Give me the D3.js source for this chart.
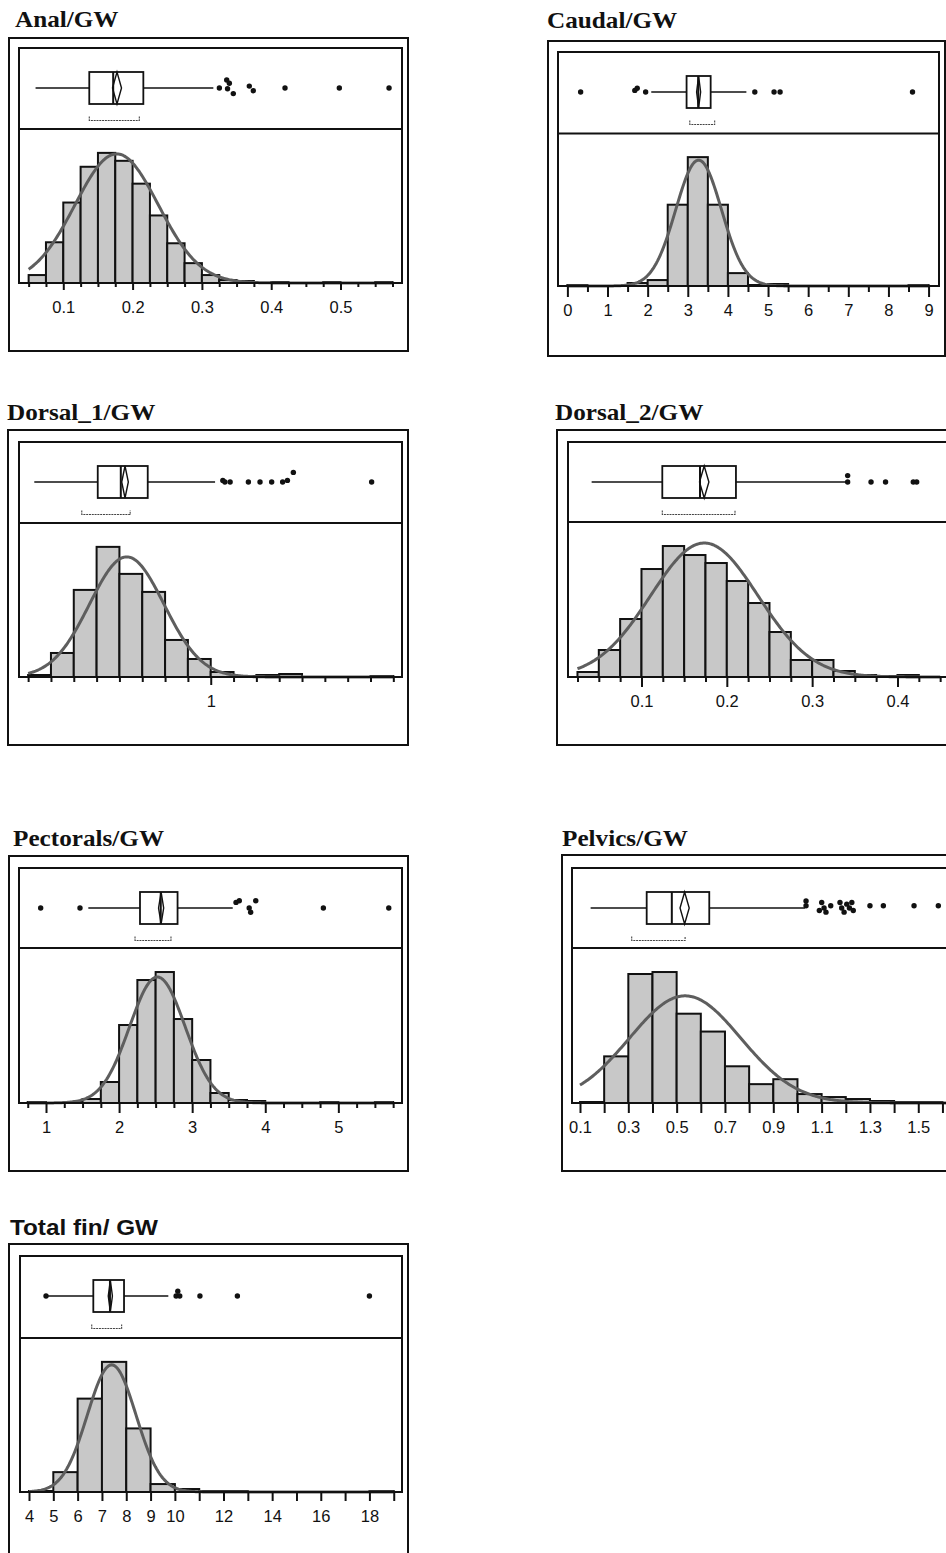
<!DOCTYPE html>
<html>
<head>
<meta charset="utf-8">
<script src="https://cdn.jsdelivr.net/npm/d3@7"></script>
<style>
  body { margin: 0; background: #fff; }
  svg { display: block; }
</style>
</head>
<body>
<svg id="chart" width="946" height="1553"></svg>
<script>
// ---------- data ----------
const titles = ["Anal/GW", "Caudal/GW", "Dorsal_1/GW", "Dorsal_2/GW", "Pectorals/GW", "Pelvics/GW", "Total fin/ GW"];

// axis limits of each distribution plot
const axisMin = [0.0361, -0.234, 0.160, 0.0139, 0.6305, 0.0669, 3.63];
const axisMax = [0.5887, 9.26, 1.838, 0.4627, 5.871, 1.652, 19.34];

// histogram bins: first bin edge, bin width, counts
const binStart = [0.05, 0, 0.2, 0.025, 0.75, 0.1, 4];
const binWidth = [0.025, 0.5, 0.1, 0.025, 0.25, 0.1, 1];
const analCounts     = [8, 41, 81, 117, 131, 123, 100, 68, 40, 20, 8, 3, 2, 0, 1, 0, 0, 1, 0, 0, 1];
const caudalCounts   = [1, 0, 0, 3, 6, 82, 130, 82, 13, 1, 2, 0, 0, 0, 0, 0, 0, 1];
const dorsal1Counts  = [2, 24, 87, 130, 103, 85, 37, 18, 5, 1, 2, 3, 0, 0, 0, 1];
const dorsal2Counts  = [5, 27, 58, 108, 131, 122, 114, 96, 74, 45, 17, 17, 6, 2, 1, 2];
const pectoralCounts = [1, 0, 1, 4, 21, 78, 123, 131, 84, 43, 10, 3, 2, 0, 0, 0, 1, 0, 0, 1];
const pelvicCounts   = [1, 47, 130, 132, 90, 72, 37, 19, 24, 9, 6, 4, 2, 1, 1];
const totalCounts    = [1, 20, 94, 131, 64, 8, 3, 1, 1, 0, 0, 0, 0, 0, 1];

// fitted normal curve: mean, standard deviation, peak height (count units)
const fitMean = [0.177, 3.27, 0.632, 0.1736, 2.524, 0.535, 7.40];
const fitSD   = [0.060, 0.57, 0.163, 0.063, 0.38, 0.23, 1.0];
const fitPeak = [130, 127, 120, 134, 126, 108, 128];

// outlier box plot statistics
const whiskerLo = [0.060, 2.09, 0.227, 0.0416, 1.579, 0.144, 4.70];
const q1        = [0.1375, 2.97, 0.505, 0.1244, 2.286, 0.376, 6.645];
const median    = [0.172, 3.26, 0.606, 0.1686, 2.57, 0.48, 7.33];
const q3        = [0.2155, 3.57, 0.724, 0.2107, 2.80, 0.635, 7.908];
const whiskerHi = [0.3165, 4.46, 1.019, 0.3405, 3.555, 1.031, 9.73];
const meanCILo  = [0.171, 3.22, 0.61, 0.168, 2.54, 0.514, 7.26];
const meanCIHi  = [0.184, 3.32, 0.639, 0.179, 2.61, 0.552, 7.43];
const shortHalfLo = [0.1375, 3.05, 0.435, 0.1244, 2.218, 0.314, 6.58];
const shortHalfHi = [0.2097, 3.67, 0.647, 0.2096, 2.71, 0.535, 7.81];

// outliers: [value, vertical jitter as a fraction of the box half-height]
const analOutliers = [[0.3252, 0], [0.3358, -0.5], [0.3396, -0.3], [0.3370, 0.05], [0.3453, 0.35], [0.3684, -0.12], [0.3742, 0.17], [0.4199, 0], [0.4983, 0], [0.570, 0]];
const caudalOutliers = [[0.33, 0], [1.68, -0.1], [1.74, -0.23], [1.95, 0], [4.67, 0], [5.15, 0], [5.30, 0], [8.6, 0]];
const dorsal1Outliers = [[1.053, -0.1], [1.062, 0], [1.085, 0], [1.165, 0], [1.216, 0], [1.267, 0], [1.315, 0], [1.336, -0.1], [1.362, -0.6], [1.705, 0]];
const dorsal2Outliers = [[0.3416, -0.4], [0.3416, 0], [0.369, 0], [0.386, 0], [0.4185, 0], [0.4225, 0]];
const pectoralOutliers = [[0.927, 0], [1.465, 0], [3.60, -0.35], [3.645, -0.45], [3.78, 0], [3.80, 0.27], [3.87, -0.45], [4.795, 0], [5.69, 0]];
const pelvicOutliers = [[1.0355, -0.44], [1.0355, -0.14], [1.0906, 0.16], [1.1003, -0.34], [1.110, 0], [1.118, 0.26], [1.1377, -0.14],
  [1.176, -0.34], [1.183, 0], [1.193, 0.26], [1.204, -0.24], [1.215, 0], [1.225, -0.34], [1.231, 0.16],
  [1.300, -0.14], [1.3555, -0.14], [1.4825, -0.14], [1.583, -0.14]];
const totalOutliers = [[4.70, 0], [10.05, 0], [10.12, -0.3], [10.2, 0], [11.03, 0], [12.57, 0], [18.0, 0]];

// axis ticks: [first, last, step] for all ticks, labelled values and their labels
const tickRange = [[0.05, 0.575, 0.025], [0, 9, 0.5], [0.2, 1.8, 0.1], [0.025, 0.45, 0.025], [0.75, 5.75, 0.25], [0.1, 1.7, 0.1], [4, 19, 1]];
const analLabels     = ["0.1", "0.2", "0.3", "0.4", "0.5"];
const caudalLabels   = ["0", "1", "2", "3", "4", "5", "6", "7", "8", "9"];
const dorsal1Labels  = ["1"];
const dorsal2Labels  = ["0.1", "0.2", "0.3", "0.4"];
const pectoralLabels = ["1", "2", "3", "4", "5"];
const pelvicLabels   = ["0.1", "0.3", "0.5", "0.7", "0.9", "1.1", "1.3", "1.5"];
const totalLabels    = ["4", "5", "6", "7", "8", "9", "10", "12", "14", "16", "18"];

const countsList   = [analCounts, caudalCounts, dorsal1Counts, dorsal2Counts, pectoralCounts, pelvicCounts, totalCounts];
const outlierList  = [analOutliers, caudalOutliers, dorsal1Outliers, dorsal2Outliers, pectoralOutliers, pelvicOutliers, totalOutliers];
const labelList    = [analLabels, caudalLabels, dorsal1Labels, dorsal2Labels, pectoralLabels, pelvicLabels, totalLabels];

// ---------- layout ----------
// outer frame, inner frame (top to histogram baseline), divider offset, title position, tick lengths
const layout = [
  { ox: 9,   oy: 38,   ow: 399, oh: 313, ix: 19,  iy: 48,   iw: 383, ih: 235, div: 81,   tx: 15,  ty: 27,   major: 7,  minor: 4 },
  { ox: 548, oy: 41,   ow: 397, oh: 315, ix: 558, iy: 52,   iw: 381, ih: 234, div: 81.5, tx: 547, ty: 28,   major: 11, minor: 6 },
  { ox: 8,   oy: 430,  ow: 400, oh: 315, ix: 19,  iy: 442,  iw: 383, ih: 235, div: 81,   tx: 7,   ty: 420,  major: 8,  minor: 5 },
  { ox: 557, oy: 430,  ow: 400, oh: 315, ix: 568, iy: 442,  iw: 383, ih: 235, div: 80,   tx: 555, ty: 420,  major: 10, minor: 5 },
  { ox: 9,   oy: 856,  ow: 399, oh: 315, ix: 19,  iy: 868,  iw: 383, ih: 235, div: 80,   tx: 13,  ty: 846,  major: 10, minor: 5 },
  { ox: 562, oy: 855,  ow: 400, oh: 316, ix: 572, iy: 868,  iw: 383, ih: 235, div: 80,   tx: 562, ty: 846,  major: 10, minor: 10 },
  { ox: 9,   oy: 1244, ow: 399, oh: 320, ix: 20,  iy: 1256, iw: 382, ih: 236, div: 82,   tx: 10,  ty: 1235, major: 9,  minor: 9 }
];
const serifTitle = [true, true, true, true, true, true, false];

const INK = "#111";
const BAR_FILL = "#c8c8c8";
const CURVE = "#5e5e5e";
const LABEL_FONT = "'Liberation Sans', Arial, sans-serif";
const LABEL_SIZE = 16.5;

// ---------- drawing ----------
const svg = d3.select("#chart");
svg.append("rect").attr("width", 946).attr("height", 1553).attr("fill", "#fff");

titles.forEach((title, i) => {
  const L = layout[i];
  const counts = countsList[i];
  const g = svg.append("g");

  const baseline = L.iy + L.ih;
  const dividerY = L.iy + L.div;

  const x = d3.scaleLinear().domain([axisMin[i], axisMax[i]]).range([L.ix, L.ix + L.iw]);
  const yMax = d3.max(counts) / 0.845;
  const y = d3.scaleLinear().domain([0, yMax]).range([baseline, dividerY]);

  // outer frame
  g.append("rect")
    .attr("x", L.ox).attr("y", L.oy).attr("width", L.ow).attr("height", L.oh)
    .attr("fill", "none").attr("stroke", INK).attr("stroke-width", 2);

  // histogram bars
  const bins = counts.map((c, k) => ({ x0: binStart[i] + k * binWidth[i], x1: binStart[i] + (k + 1) * binWidth[i], c }));
  g.append("g").selectAll("rect").data(bins.filter(b => b.c > 0)).join("rect")
    .attr("x", d => x(d.x0))
    .attr("y", d => y(d.c))
    .attr("width", d => x(d.x1) - x(d.x0))
    .attr("height", d => y(0) - y(d.c))
    .attr("fill", BAR_FILL)
    .attr("stroke", INK)
    .attr("stroke-width", 2);

  // fitted normal curve
  const [t0, t1, step] = tickRange[i];
  const curvePts = d3.range(0, 301).map(k => {
    const v = t0 + (t1 - t0) * k / 300;
    const z = (v - fitMean[i]) / fitSD[i];
    return [v, fitPeak[i] * Math.exp(-0.5 * z * z)];
  });
  g.append("path")
    .datum(curvePts)
    .attr("d", d3.line().x(d => x(d[0])).y(d => y(d[1])))
    .attr("fill", "none")
    .attr("stroke", CURVE)
    .attr("stroke-width", 3)
    .attr("stroke-linejoin", "round");

  // inner frame and divider
  g.append("rect")
    .attr("x", L.ix).attr("y", L.iy).attr("width", L.iw).attr("height", L.ih)
    .attr("fill", "none").attr("stroke", INK).attr("stroke-width", 2);
  g.append("line")
    .attr("x1", L.ix).attr("x2", L.ix + L.iw).attr("y1", dividerY).attr("y2", dividerY)
    .attr("stroke", INK).attr("stroke-width", 2);

  // axis: all ticks, then labelled ticks
  const allTicks = d3.range(Math.round((t1 - t0) / step) + 1).map(k => +(t0 + k * step).toFixed(6));
  const labels = labelList[i];
  const labelVals = labels.map(Number);
  const minorAxis = d3.axisBottom(x).tickValues(allTicks.filter(v => !labelVals.some(l => Math.abs(l - v) < 1e-9)))
    .tickSize(L.minor).tickFormat("");
  const majorAxis = d3.axisBottom(x).tickValues(labelVals).tickSize(L.major)
    .tickPadding(30 - 0.71 * LABEL_SIZE - L.major).tickFormat((d, j) => labels[j]);
  [minorAxis, majorAxis].forEach(ax => {
    const a = g.append("g").attr("transform", `translate(0,${baseline})`).call(ax);
    a.attr("font-size", LABEL_SIZE).attr("font-family", LABEL_FONT);
    a.select(".domain").remove();
    a.selectAll(".tick line").attr("stroke", INK).attr("stroke-width", 2);
    a.selectAll(".tick text").attr("fill", INK)
      .style("font-family", LABEL_FONT).style("font-size", LABEL_SIZE + "px");
  });

  // outlier box plot
  const cy = L.iy + 40;
  const hh = 16;
  const bx = g.append("g").attr("stroke", INK);
  bx.append("line").attr("x1", x(whiskerLo[i])).attr("x2", x(q1[i])).attr("y1", cy).attr("y2", cy).attr("stroke-width", 1.6);
  bx.append("line").attr("x1", x(q3[i])).attr("x2", x(whiskerHi[i])).attr("y1", cy).attr("y2", cy).attr("stroke-width", 1.6);
  bx.append("rect")
    .attr("x", x(q1[i])).attr("y", cy - hh).attr("width", x(q3[i]) - x(q1[i])).attr("height", 2 * hh)
    .attr("fill", "#fff").attr("stroke-width", 1.8);
  bx.append("line").attr("x1", x(median[i])).attr("x2", x(median[i])).attr("y1", cy - hh).attr("y2", cy + hh).attr("stroke-width", 2);
  const mMid = (meanCILo[i] + meanCIHi[i]) / 2;
  bx.append("path")
    .attr("d", `M${x(meanCILo[i])},${cy} L${x(mMid)},${cy - hh} L${x(meanCIHi[i])},${cy} L${x(mMid)},${cy + hh} Z`)
    .attr("fill", "none").attr("stroke-width", 1.4);
  // shortest half bracket
  const by = L.iy + 72.5;
  bx.append("path")
    .attr("d", `M${x(shortHalfLo[i])},${by - 4} V${by} H${x(shortHalfHi[i])} V${by - 4}`)
    .attr("fill", "none").attr("stroke", "#444").attr("stroke-width", 1.1)
    .attr("stroke-dasharray", "2,0.8");
  // outliers
  g.append("g").selectAll("circle").data(outlierList[i]).join("circle")
    .attr("cx", d => x(d[0]))
    .attr("cy", d => cy + d[1] * hh)
    .attr("r", 2.7)
    .attr("fill", INK);

  // title
  const serif = serifTitle[i];
  svg.append("text")
    .attr("transform", `translate(${L.tx},${L.ty}) scale(${serif ? 1.12 : 1.08},1)`)
    .attr("fill", INK)
    .style("font-family", serif ? "'Liberation Serif', 'Times New Roman', serif" : LABEL_FONT)
    .style("font-weight", "bold")
    .style("font-size", "22.5px")
    .text(title);
});
</script>
</body>
</html>
